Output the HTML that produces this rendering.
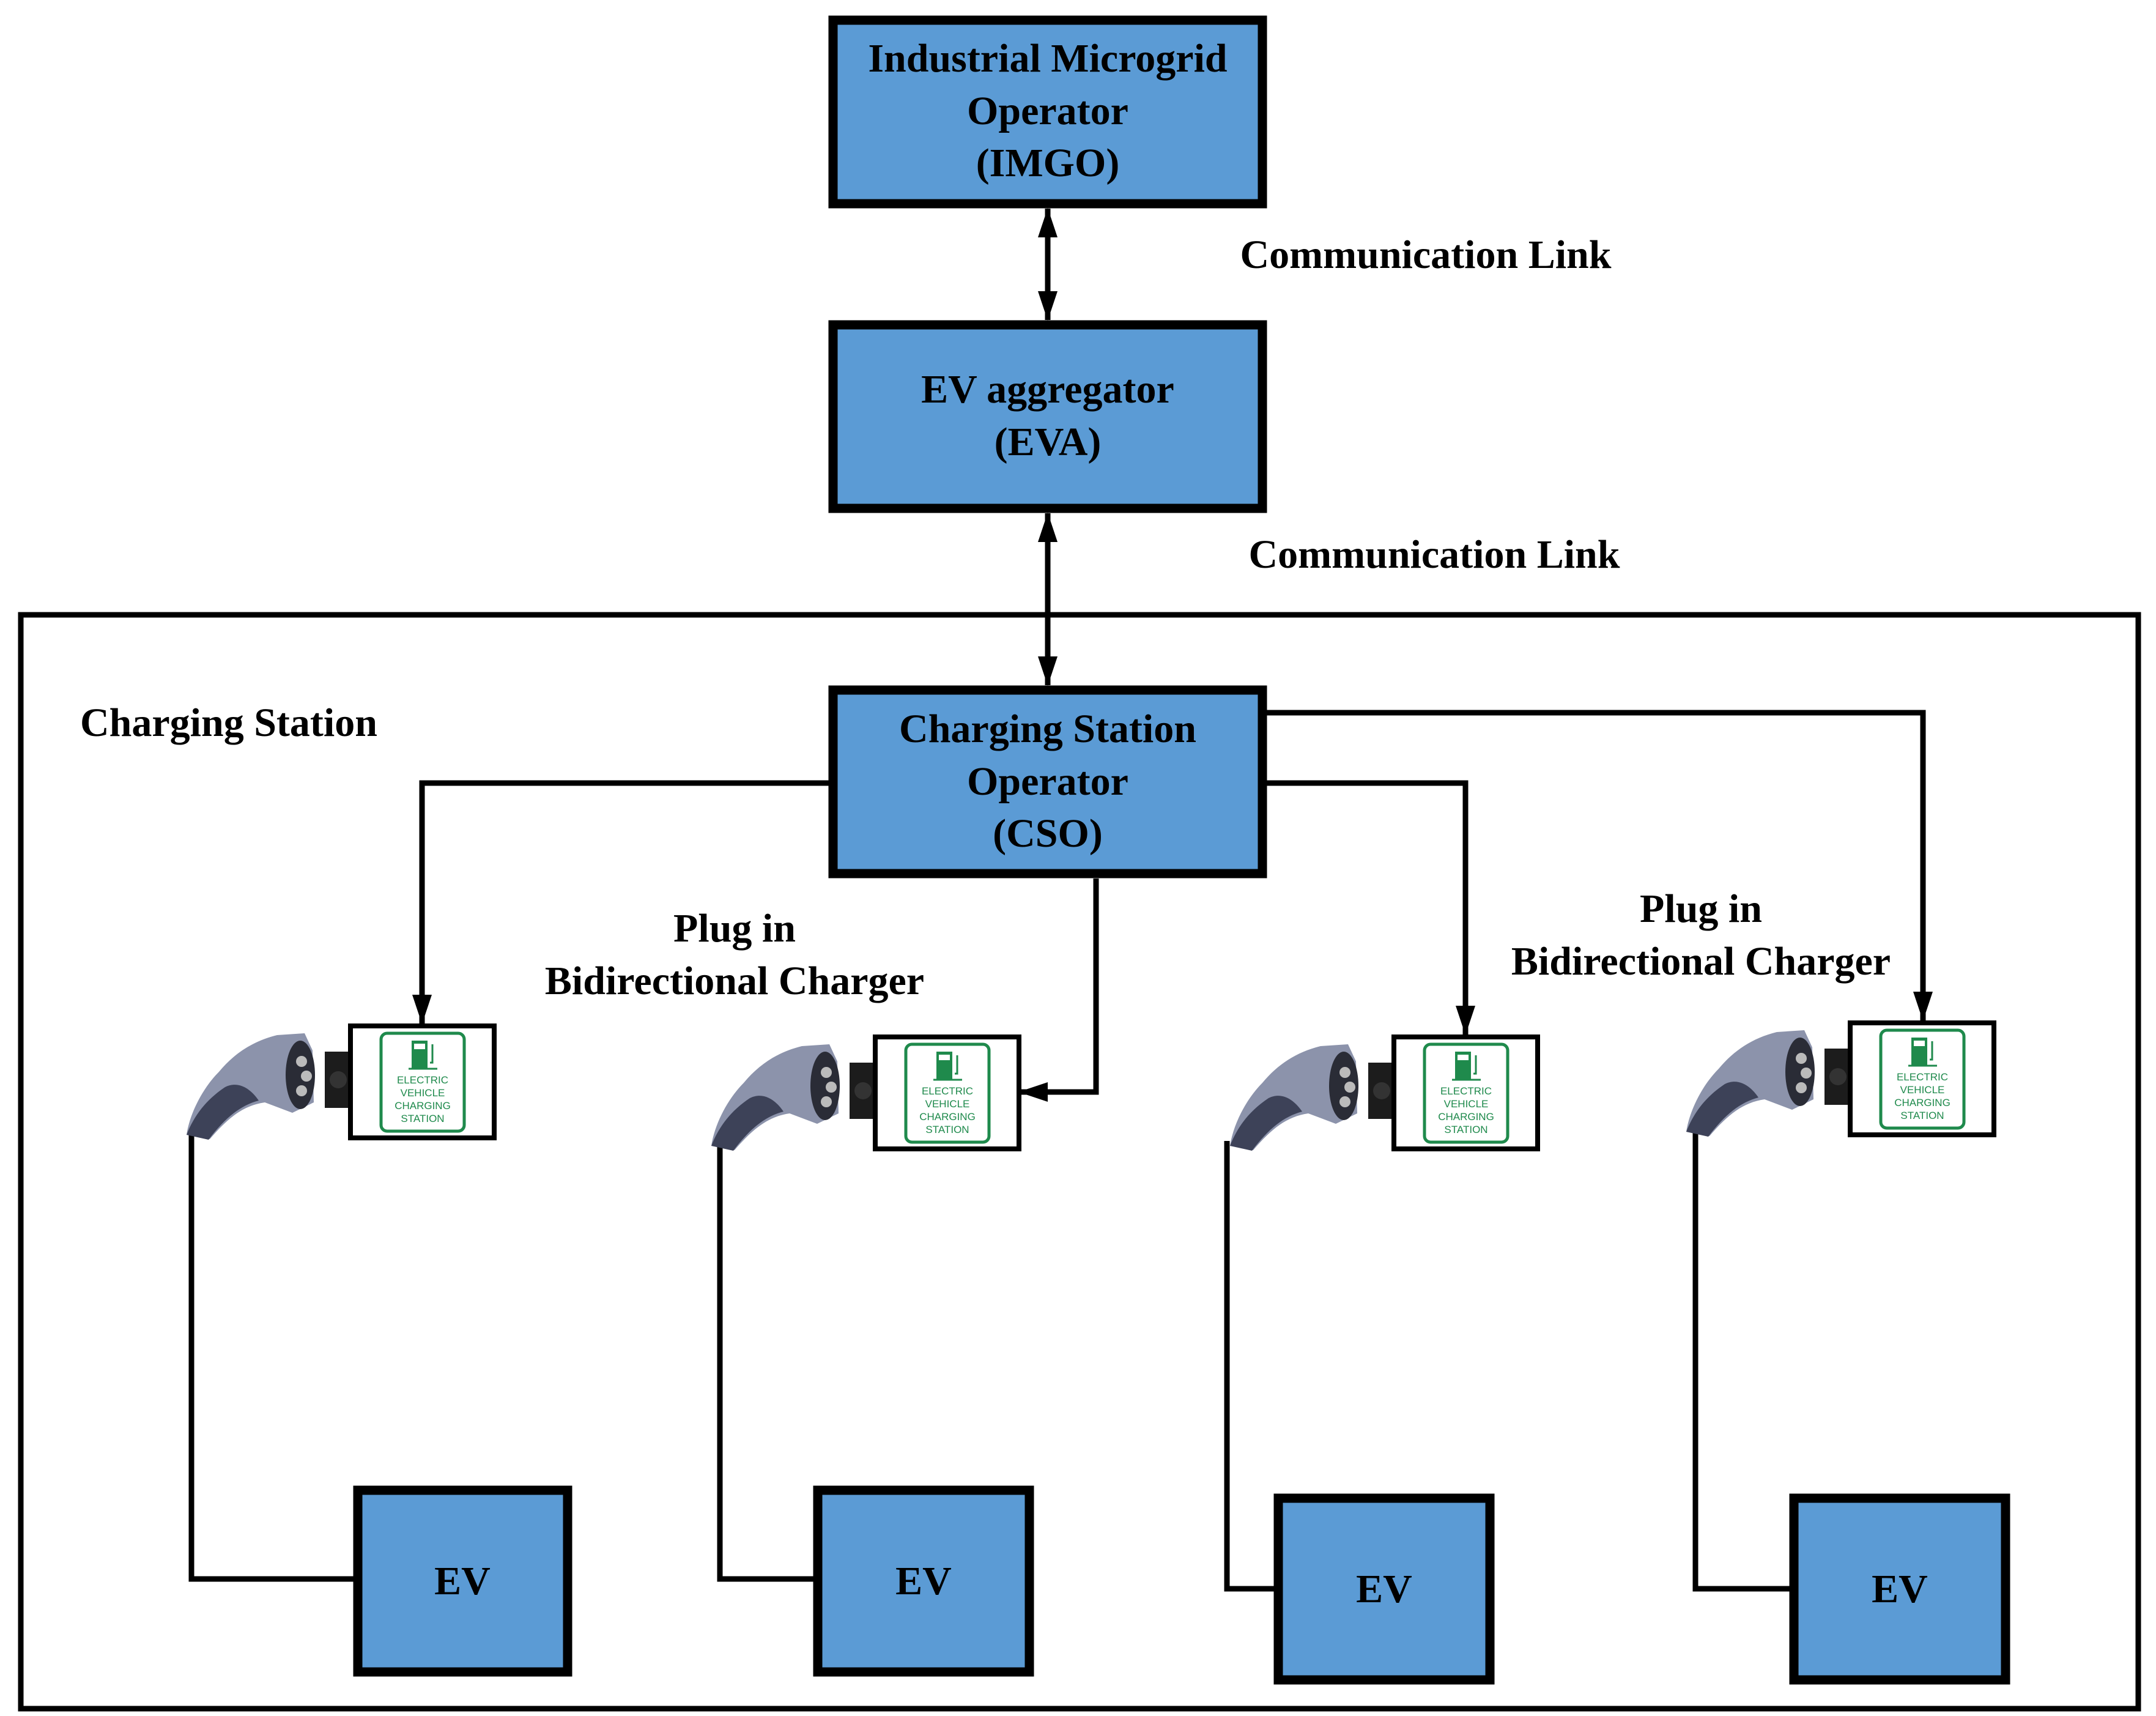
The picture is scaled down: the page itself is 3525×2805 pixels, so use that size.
<!DOCTYPE html>
<html><head><meta charset="utf-8"><style>
html,body{margin:0;padding:0;background:#fff}
svg{display:block}
text{font-family:"Liberation Serif",serif;font-weight:bold;fill:#000}
</style></head><body>
<svg width="3525" height="2805" viewBox="0 0 3525 2805" xmlns="http://www.w3.org/2000/svg">
<defs>
<marker id="ah" markerWidth="48" markerHeight="32" refX="47" refY="16" orient="auto-start-reverse" markerUnits="userSpaceOnUse">
<path d="M0,0 L48,16 L0,32 z" fill="#000"/>
</marker>
<g id="plug">
<path d="M-268,178 C-262,140 -240,100 -215,75 C-190,45 -160,25 -120,15 L-75,12 L-62,40 L-60,125 L-95,142 L-140,125 C-175,130 -200,150 -230,185 Z" fill="#8c93ab"/>
<path d="M-268,178 C-255,145 -235,120 -205,100 C-185,90 -165,100 -150,122 C-180,130 -205,150 -232,186 Z" fill="#3d4258"/>
<ellipse cx="-82" cy="80" rx="24" ry="56" fill="#2a2c36"/>
<circle cx="-80" cy="58" r="9" fill="#bbb"/><circle cx="-72" cy="82" r="9" fill="#bbb"/><circle cx="-80" cy="106" r="9" fill="#bbb"/>
<rect x="-42" y="42" width="42" height="92" fill="#1c1c1c"/>
<circle cx="-20" cy="88" r="14" fill="#333"/>
</g>
<g id="sign">
<rect x="0" y="0" width="235" height="183" fill="#fff" stroke="#000" stroke-width="8"/>
<rect x="50" y="12" width="136" height="160" rx="10" fill="#fff" stroke="#1f8a4c" stroke-width="5"/>
<rect x="100" y="24" width="26" height="45" fill="#1f8a4c"/>
<rect x="104" y="29" width="18" height="9" fill="#fff"/>
<path d="M130,60 L134,60 L134,30" stroke="#1f8a4c" stroke-width="3" fill="none"/>
<line x1="95" y1="70" x2="142" y2="70" stroke="#1f8a4c" stroke-width="3"/>
<text x="118" y="94" text-anchor="middle" style="font-family:'Liberation Sans',sans-serif;font-weight:normal;font-size:17px;fill:#1f8a4c">ELECTRIC</text>
<text x="118" y="115" text-anchor="middle" style="font-family:'Liberation Sans',sans-serif;font-weight:normal;font-size:17px;fill:#1f8a4c">VEHICLE</text>
<text x="118" y="136" text-anchor="middle" style="font-family:'Liberation Sans',sans-serif;font-weight:normal;font-size:17px;fill:#1f8a4c">CHARGING</text>
<text x="118" y="157" text-anchor="middle" style="font-family:'Liberation Sans',sans-serif;font-weight:normal;font-size:17px;fill:#1f8a4c">STATION</text>
</g>
</defs>

<rect x="34" y="1005" width="3462" height="1788" fill="none" stroke="#000" stroke-width="9"/>

<g fill="#5b9bd5" stroke="#000" stroke-width="15">
<rect x="1362" y="33" width="702" height="300"/>
<rect x="1362" y="531" width="702" height="300"/>
<rect x="1362" y="1128" width="702" height="300"/>
<rect x="585" y="2436" width="343" height="297"/>
<rect x="1337" y="2436" width="346" height="297"/>
<rect x="2090" y="2449" width="346" height="297"/>
<rect x="2933" y="2449" width="346" height="297"/>
</g>

<g stroke="#000" stroke-width="9" fill="none">
<line x1="1713" y1="341" x2="1713" y2="523" marker-start="url(#ah)" marker-end="url(#ah)"/>
<line x1="1713" y1="839" x2="1713" y2="1120" marker-start="url(#ah)" marker-end="url(#ah)"/>
<polyline points="1355,1280 690,1280 690,1673" marker-end="url(#ah)"/>
<polyline points="1792,1436 1792,1785 1666,1785" marker-end="url(#ah)"/>
<polyline points="2071,1280 2396,1280 2396,1691" marker-end="url(#ah)"/>
<polyline points="2071,1165 3144,1165 3144,1668" marker-end="url(#ah)"/>
<polyline points="313,1848 313,2581 585,2581"/>
<polyline points="1177,1865 1177,2581 1337,2581"/>
<polyline points="2006,1865 2006,2597 2090,2597"/>
<polyline points="2772,1848 2772,2597 2933,2597"/>
</g>

<use href="#plug" x="573" y="1677"/><use href="#sign" x="573" y="1677"/>
<use href="#plug" x="1431" y="1695"/><use href="#sign" x="1431" y="1695"/>
<use href="#plug" x="2279" y="1695"/><use href="#sign" x="2279" y="1695"/>
<use href="#plug" x="3025" y="1672"/><use href="#sign" x="3025" y="1672"/>

<g font-size="66" text-anchor="middle">
<text x="1713" y="117">Industrial Microgrid</text>
<text x="1713" y="203">Operator</text>
<text x="1713" y="288">(IMGO)</text>
<text x="1713" y="658">EV aggregator</text>
<text x="1713" y="744">(EVA)</text>
<text x="1713" y="1213">Charging Station</text>
<text x="1713" y="1299">Operator</text>
<text x="1713" y="1384">(CSO)</text>
<text x="2331" y="438">Communication Link</text>
<text x="2345" y="928">Communication Link</text>
<text x="1201" y="1539">Plug in</text>
<text x="1201" y="1625">Bidirectional Charger</text>
<text x="2781" y="1507">Plug in</text>
<text x="2781" y="1593">Bidirectional Charger</text>
<text x="756" y="2606">EV</text>
<text x="1510" y="2606">EV</text>
<text x="2263" y="2619">EV</text>
<text x="3106" y="2619">EV</text>
</g>
<text x="131" y="1203" font-size="66">Charging Station</text>
</svg>
</body></html>
